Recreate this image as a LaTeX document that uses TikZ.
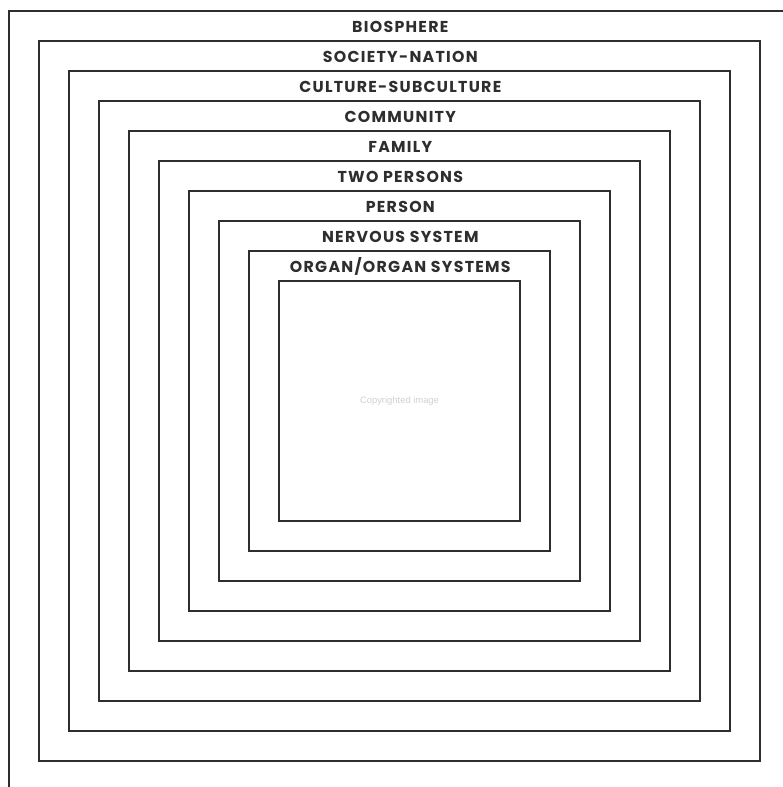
\documentclass[tikz,border=0pt]{standalone}
\usepackage{fontspec}
\setmainfont{Poppins}
\newfontfamily\labfont{Poppins}[LetterSpace=8]
\newfontfamily\notefont{Liberation Sans}
\definecolor{ink}{HTML}{2E2E2E}
\definecolor{faint}{HTML}{D0D0D0}
\tikzset{
  ring/.style={draw=ink, line width=1.9pt},
  lvl/.style={font=\labfont\fontsize{15.8}{17}\selectfont\bfseries, text=ink, inner sep=0pt, anchor=center},
}
\begin{document}
\begin{tikzpicture}[x=1pt,y=-1pt]
\useasboundingbox (0,0) rectangle (783,787);
\clip (0,0) rectangle (783,787);
\foreach \k in {0,...,9}{
  \draw[ring] ({9.3+30*\k},{11+30*\k}) rectangle ({789.7-30*\k},{791.3-30*\k});
}
\node[lvl] (l0) at (400.3,26.5) {BIOSPHERE};
\node[lvl] (l1) at (400.3,56.5) {SOCIETY-NATION};
\node[lvl] (l2) at (400.3,86.5) {CULTURE-SUBCULTURE};
\node[lvl] (l3) at (400.3,116.5) {COMMUNITY};
\node[lvl] (l4) at (400.3,146.5) {FAMILY};
\node[lvl] (l5) at (400.3,176.5) {TWO PERSONS};
\node[lvl] (l6) at (400.3,206.5) {PERSON};
\node[lvl] (l7) at (400.3,236.5) {NERVOUS SYSTEM};
\node[lvl] (l8) at (400.3,266.5) {ORGAN/ORGAN SYSTEMS};
\node[font=\notefont\fontsize{9.4}{11}\selectfont, text=faint, inner sep=0pt] (ci) at (399.5,401) {Copyrighted image};
\end{tikzpicture}
\end{document}
